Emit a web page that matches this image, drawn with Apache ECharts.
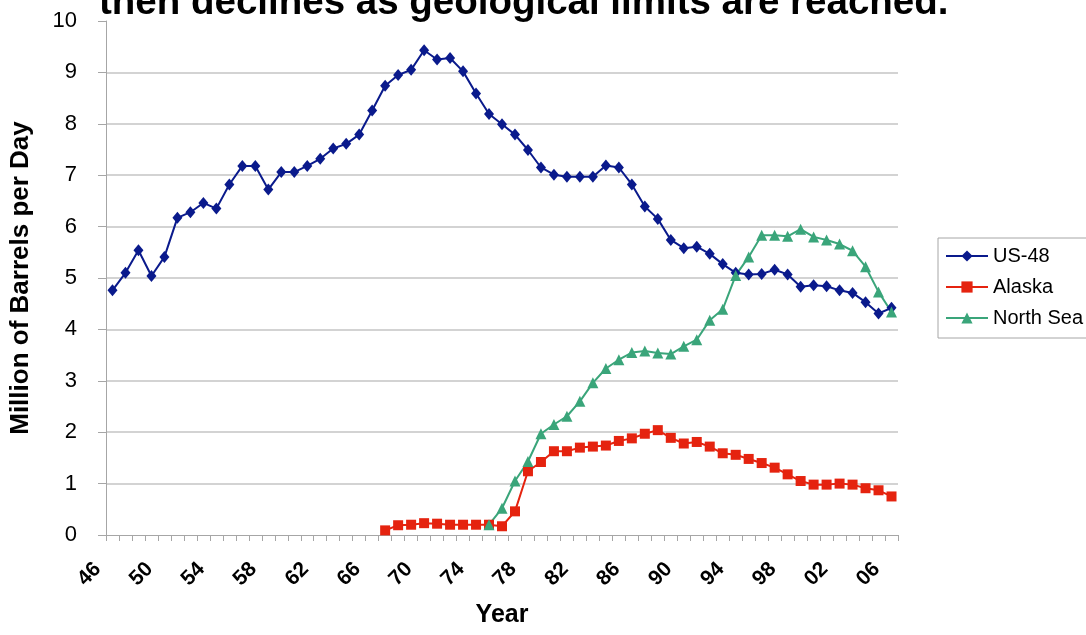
<html>
<head>
    <meta charset='utf-8'/>
    <title>Oil production</title>
    <style>
        body {
            margin: 0;
            padding: 0;
            background: #fff;
        }

        #chart {
            width: 1086px;
            height: 635px;
        }
    </style>
</head>
<body>
<div id='chart'></div>
<script type="text/javascript" src="https://cdn.jsdelivr.net/npm/echarts@6/dist/echarts.min.js"></script>
<script type="text/javascript">
    var years = ['1946', '1947', '1948', '1949', '1950', '1951', '1952', '1953', '1954', '1955',
        '1956', '1957', '1958', '1959', '1960', '1961', '1962', '1963', '1964', '1965',
        '1966', '1967', '1968', '1969', '1970', '1971', '1972', '1973', '1974', '1975',
        '1976', '1977', '1978', '1979', '1980', '1981', '1982', '1983', '1984', '1985',
        '1986', '1987', '1988', '1989', '1990', '1991', '1992', '1993', '1994', '1995',
        '1996', '1997', '1998', '1999', '2000', '2001', '2002', '2003', '2004', '2005',
        '2006'];

    // million barrels per day
    var us48 = [4.76, 5.10, 5.54, 5.04, 5.41, 6.17, 6.28, 6.46, 6.35, 6.82,
        7.18, 7.18, 6.72, 7.06, 7.06, 7.18, 7.32, 7.52, 7.61, 7.79,
        8.26, 8.74, 8.95, 9.05, 9.43, 9.25, 9.28, 9.02, 8.59, 8.19,
        7.99, 7.79, 7.49, 7.15, 7.01, 6.97, 6.97, 6.97, 7.19, 7.15,
        6.82, 6.39, 6.15, 5.74, 5.58, 5.61, 5.47, 5.27, 5.10, 5.07,
        5.08, 5.16, 5.07, 4.83, 4.86, 4.84, 4.76, 4.71, 4.53, 4.31,
        4.42];

    var alaska = [null, null, null, null, null, null, null, null, null, null,
        null, null, null, null, null, null, null, null, null, null,
        null, 0.09, 0.19, 0.20, 0.23, 0.22, 0.20, 0.20, 0.20, 0.20,
        0.17, 0.46, 1.24, 1.42, 1.63, 1.63, 1.70, 1.72, 1.74, 1.83,
        1.88, 1.97, 2.04, 1.89, 1.78, 1.81, 1.72, 1.59, 1.56, 1.48,
        1.40, 1.31, 1.18, 1.05, 0.98, 0.98, 1.00, 0.98, 0.91, 0.87,
        0.75];

    var northSea = [null, null, null, null, null, null, null, null, null, null,
        null, null, null, null, null, null, null, null, null, null,
        null, null, null, null, null, null, null, null, null, 0.20,
        0.52, 1.05, 1.43, 1.97, 2.15, 2.31, 2.60, 2.96, 3.24, 3.41,
        3.55, 3.58, 3.54, 3.52, 3.67, 3.80, 4.18, 4.39, 5.05, 5.41,
        5.83, 5.83, 5.81, 5.95, 5.80, 5.74, 5.66, 5.53, 5.22, 4.73,
        4.34];

    var font = "'Liberation Sans', Arial, sans-serif";
    var chart = echarts.init(document.getElementById('chart'));

    var option = {
        backgroundColor: '#fff',
        animation: false,
        title: {
            text: 'then declines as geological limits are reached.',
            left: 99,
            top: -16,
            padding: 0,
            textStyle: {
                color: '#000',
                fontFamily: font,
                fontWeight: 'bold',
                fontSize: 38.5
            }
        },
        legend: {
            orient: 'vertical',
            left: 938,
            top: 238,
            padding: [8, 6, 10, 7],
            itemGap: 11,
            itemWidth: 42,
            itemHeight: 14,
            borderColor: '#a6a6a6',
            borderWidth: 1,
            borderRadius: 0,
            textStyle: {
                color: '#000',
                fontFamily: font,
                fontSize: 20,
                lineHeight: 20
            },
            data: ['US-48', 'Alaska', 'North Sea']
        },
        grid: {
            left: 106,
            right: 188,
            top: 21,
            bottom: 100
        },
        xAxis: {
            type: 'category',
            data: years,
            boundaryGap: true,
            name: 'Year',
            nameLocation: 'middle',
            nameGap: 68,
            nameTextStyle: {
                color: '#000',
                fontFamily: font,
                fontWeight: 'bold',
                fontSize: 25
            },
            axisLine: {lineStyle: {color: '#a6a6a6', width: 1}},
            axisTick: {
                show: true,
                interval: 0,
                length: 6,
                lineStyle: {color: '#a6a6a6'}
            },
            axisLabel: {
                interval: 3,
                rotate: 45,
                margin: 16,
                padding: [0, 21, 0, 0],
                color: '#000',
                fontFamily: font,
                fontWeight: 'bold',
                fontSize: 21,
                formatter: function (v) {
                    return v.slice(2);
                }
            },
            splitLine: {show: false}
        },
        yAxis: {
            type: 'value',
            min: 0,
            max: 10,
            interval: 1,
            name: 'Million of Barrels per Day',
            nameLocation: 'middle',
            nameRotate: 90,
            nameGap: 72,
            nameTextStyle: {
                color: '#000',
                fontFamily: font,
                fontWeight: 'bold',
                fontSize: 26
            },
            axisLine: {show: true, lineStyle: {color: '#a6a6a6', width: 1}},
            axisTick: {show: true, length: 8, lineStyle: {color: '#a6a6a6'}},
            axisLabel: {
                margin: 29,
                color: '#000',
                fontFamily: font,
                fontSize: 22
            },
            splitLine: {
                show: true,
                showMinLine: false,
                showMaxLine: false,
                lineStyle: {color: '#c4c4c4', width: 1.5}
            }
        },
        series: [
            {
                name: 'US-48',
                type: 'line',
                data: us48,
                symbol: 'diamond',
                symbolSize: [10, 12],
                showAllSymbol: true,
                color: '#0a1a8c',
                lineStyle: {width: 2}
            },
            {
                name: 'Alaska',
                type: 'line',
                data: alaska,
                symbol: 'rect',
                symbolSize: 10,
                showAllSymbol: true,
                color: '#e5230f',
                lineStyle: {width: 2}
            },
            {
                name: 'North Sea',
                type: 'line',
                data: northSea,
                symbol: 'triangle',
                symbolSize: 11,
                showAllSymbol: true,
                color: '#3aa57a',
                lineStyle: {width: 2}
            }
        ]
    };

    chart.setOption(option);
</script>
</body>
</html>
